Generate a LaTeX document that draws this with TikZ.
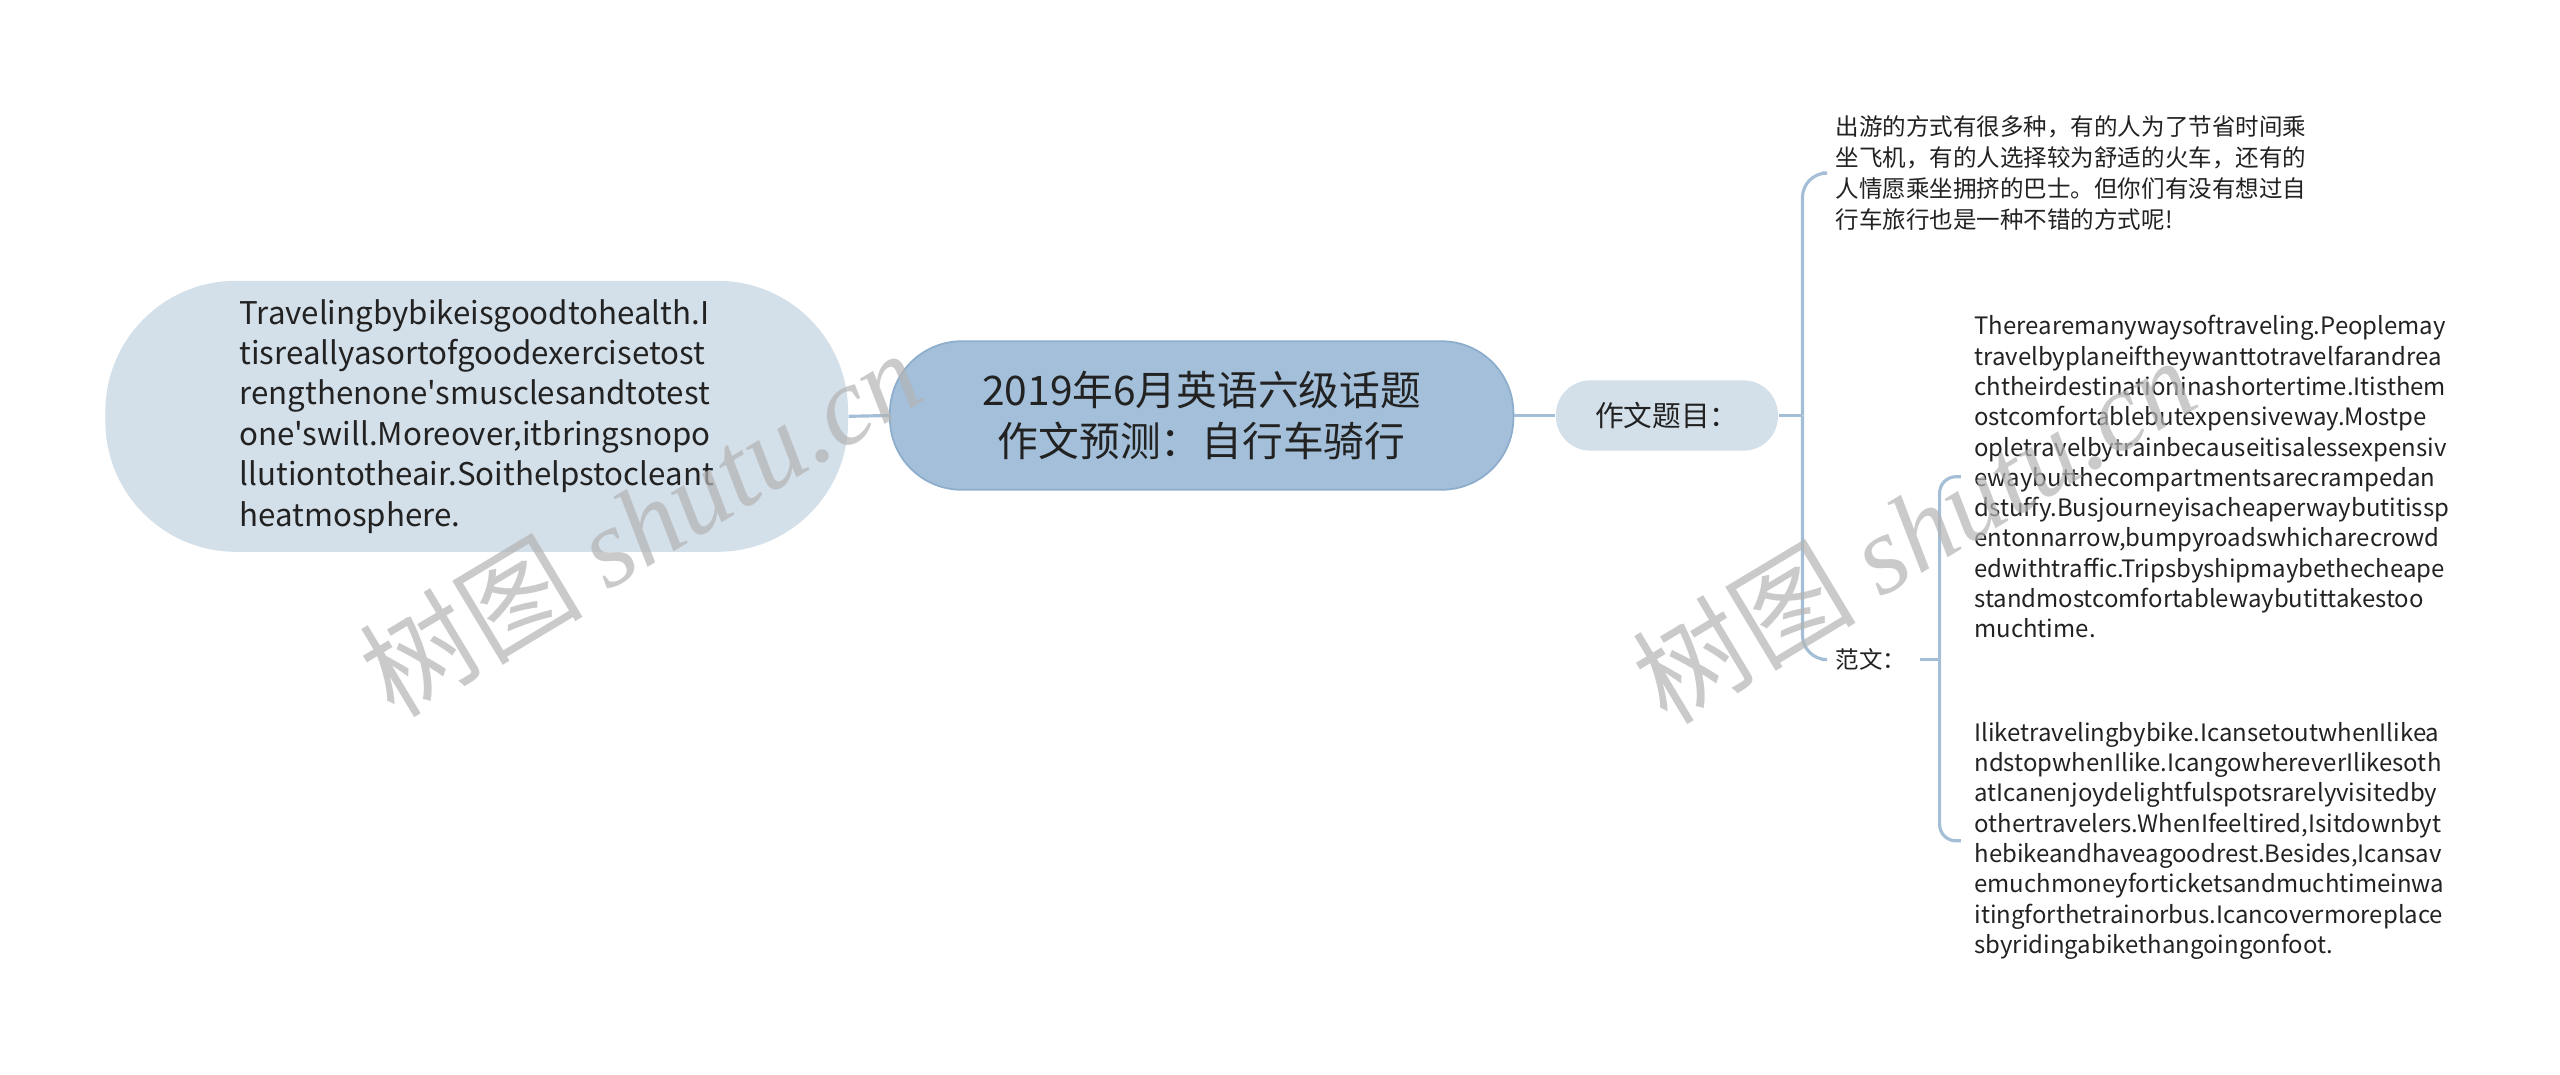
\documentclass[tikz,border=0pt]{standalone}
\usepackage{fontspec}
\newfontfamily\yh{Noto Sans CJK SC}
\newfontfamily\wmfont{Liberation Serif}
\definecolor{rootfill}{HTML}{A3BFD9}
\definecolor{rootline}{HTML}{8CADCB}
\definecolor{subfill}{HTML}{D3DFE9}
\definecolor{linkcol}{HTML}{A3BED6}
\definecolor{txt}{HTML}{222222}
\definecolor{wmgray}{HTML}{B4B4B4}
\begin{document}
\begin{tikzpicture}[x=0.02cm,y=-0.02cm,
    root/.style={draw=rootline,fill=rootfill,line width=0.6pt,rounded corners=0.88cm,
        minimum width=7.64cm,minimum height=1.82cm,inner sep=0pt,align=center,text=txt,
        font=\yh\fontsize{14.2}{18.1}\selectfont},
    sub/.style={fill=subfill,inner sep=0pt,text=txt},
    leaf/.style={inner xsep=0.16cm,inner ysep=0pt,align=left,text=txt},
    link/.style={draw=linkcol,line width=1.1pt},
    wm/.style={text=wmgray,opacity=0.7,rotate=31,font=\yh\fontsize{39}{39}\selectfont}]
        \useasboundingbox (0,0) rectangle (1568,658);

        \coordinate (r0) at (736,254.5);
        \coordinate (l1) at (292,255);
        \coordinate (r1) at (1021,254.5);
        \coordinate (b1) at (1104,254.5);
        \coordinate (b2) at (1188,404);

        \node[sub,rounded corners=1.6cm,minimum width=9.1cm,minimum height=3.32cm,align=left,
            font=\yh\fontsize{10.9}{14.1}\selectfont] (L1) at (l1)
            {Travelingbybikeisgoodtohealth.I\\tisreallyasortofgoodexercisetost\\rengthenone'smusclesandtotest\\one'swill.Moreover,itbringsnopo\\llutiontotheair.Soithelpstocleant\\heatmosphere.};
        \node[root] (R0) at (r0) {2019年6月英语六级话题\\作文预测：自行车骑行};
        \node[sub,rounded corners=0.42cm,minimum width=2.72cm,minimum height=0.86cm,
            font=\yh\fontsize{10}{12}\selectfont] (R1) at (r1) {作文题目：};

        \node[leaf,anchor=west,font=\yh\fontsize{8.2}{10.8}\selectfont] (R11) at (1116,106)
            {出游的方式有很多种，有的人为了节省时间乘\\坐飞机，有的人选择较为舒适的火车，还有的\\人情愿乘坐拥挤的巴士。但你们有没有想过自\\行车旅行也是一种不错的方式呢!};
        \node[leaf,anchor=west,font=\yh\fontsize{8.2}{10.8}\selectfont] (R12) at (1116,404) {范文：};
        \node[leaf,anchor=west,font=\yh\fontsize{8.35}{10.55}\selectfont] (R121) at (1201,292)
            {Therearemanywaysoftraveling.Peoplemay\\travelbyplaneiftheywanttotravelfarandrea\\chtheirdestinationinashortertime.Itisthem\\ostcomfortablebutexpensiveway.Mostpe\\opletravelbytrainbecauseitisalessexpensiv\\ewaybutthecompartmentsarecrampedan\\dstuffy.Busjourneyisacheaperwaybutitissp\\entonnarrow,bumpyroadswhicharecrowd\\edwithtraffic.Tripsbyshipmaybethecheape\\standmostcomfortablewaybutittakestoo\\muchtime.};
        \node[leaf,anchor=west,font=\yh\fontsize{8.35}{10.55}\selectfont] (R122) at (1201,515)
            {Iliketravelingbybike.IcansetoutwhenIlikea\\ndstopwhenIlike.IcangowhereverIlikesoth\\atIcanenjoydelightfulspotsrarelyvisitedby\\othertravelers.WhenIfeeltired,Isitdownbyt\\hebikeandhaveagoodrest.Besides,Icansav\\emuchmoneyforticketsandmuchtimeinwa\\itingforthetrainorbus.Icancovermoreplace\\sbyridingabikethangoingonfoot.};

        \draw[link] (R0.west) -- (L1.east);
        \draw[link] (R0.east) -- (R1.west);
        \draw[link] (R1.east) -- (b1);
        \draw[link,rounded corners=0.3cm] (b1) |- (R11.west);
        \draw[link,rounded corners=0.3cm] (b1) |- (R12.west);
        \draw[link] (R12.east) -- (b2);
        \draw[link,rounded corners=0.2cm] (b2) |- (R121.west);
        \draw[link,rounded corners=0.2cm] (b2) |- (R122.west);

        \node[wm] (w1) at (392,320) {树图 {\wmfont\itshape shutu.cn}};
        \node[wm] (w2) at (1172,324) {树图 {\wmfont\itshape shutu.cn}};
    \end{tikzpicture}
\end{document}
